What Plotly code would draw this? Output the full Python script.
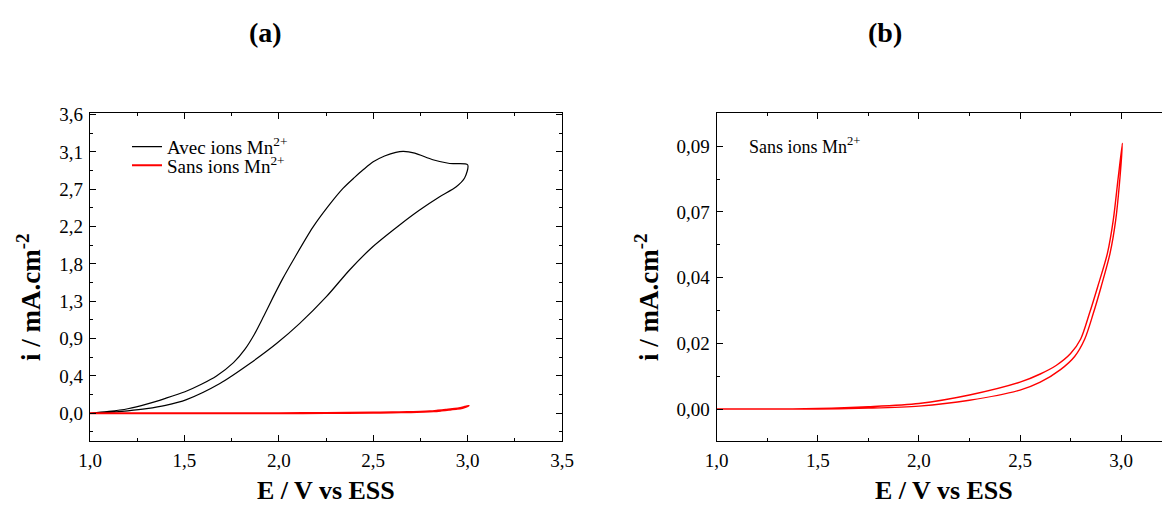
import plotly.graph_objects as go

# ---------------- data ----------------
# Panel (a) black loop: "Avec ions Mn2+" (E in V, i in mA/cm2)
E_avec = [1.000, 1.100, 1.200, 1.300, 1.400, 1.503, 1.590, 1.670, 1.760, 1.820,
          1.870, 1.920, 1.970, 2.020, 2.080, 2.180, 2.260, 2.340, 2.400, 2.450,
          2.500, 2.560, 2.620, 2.660, 2.720, 2.816, 2.905, 3.000,
          2.984, 2.940, 2.852, 2.746, 2.640, 2.499, 2.376, 2.252, 2.111, 1.988,
          1.847, 1.688, 1.511, 1.400, 1.300, 1.200, 1.100, 1.000]
I_avec = [0.000, 0.022, 0.055, 0.110, 0.180, 0.260, 0.350, 0.450, 0.610, 0.770,
          0.950, 1.170, 1.400, 1.620, 1.860, 2.240, 2.490, 2.710, 2.840, 2.940,
          3.030, 3.100, 3.145, 3.156, 3.135, 3.055, 3.010, 2.995,
          2.835, 2.730, 2.610, 2.450, 2.270, 2.010, 1.730, 1.405, 1.083, 0.840,
          0.600, 0.359, 0.165, 0.095, 0.056, 0.030, 0.012, 0.000]

# "Sans ions Mn2+" loop (used in both panels)
E_sans = [1.000, 1.250, 1.500, 1.750, 2.000, 2.250, 2.500, 2.600, 2.680, 2.750,
          2.800, 2.843, 2.884, 2.932, 2.961, 2.985, 3.006,
          2.995, 2.973, 2.945, 2.901, 2.862, 2.820, 2.770, 2.700, 2.600, 2.500,
          2.250, 2.000, 1.750, 1.500, 1.000]
I_sans = [0.0000, 0.0000, 0.0002, 0.0008, 0.0019, 0.0048, 0.0092, 0.0120, 0.0150, 0.0190,
          0.0240, 0.0327, 0.0419, 0.0533, 0.0647, 0.0790, 0.0911,
          0.0800, 0.0647, 0.0533, 0.0419, 0.0327, 0.0240, 0.0180, 0.0135, 0.0092, 0.0065,
          0.0030, 0.0010, 0.0003, 0.0000, 0.0000]

# ticks
x_ticks_a = [1.0, 1.5, 2.0, 2.5, 3.0, 3.5]
x_ticktext_a = ["1,0", "1,5", "2,0", "2,5", "3,0", "3,5"]
x_minor_a = [1.25, 1.75, 2.25, 2.75, 3.25]
y_ticks_a = [0.0, 0.45, 0.9, 1.35, 1.8, 2.25, 2.7, 3.15, 3.6]
y_ticktext_a = ["0,0", "0,4", "0,9", "1,3", "1,8", "2,2", "2,7", "3,1", "3,6"]
y_minor_a = [-0.225, 0.225, 0.675, 1.125, 1.575, 2.025, 2.475, 2.925, 3.375]

x_ticks_b = [1.0, 1.5, 2.0, 2.5, 3.0]
x_ticktext_b = ["1,0", "1,5", "2,0", "2,5", "3,0"]
x_minor_b = [1.25, 1.75, 2.25, 2.75]
y_ticks_b = [0.0, 0.0225, 0.045, 0.0675, 0.09]
y_ticktext_b = ["0,00", "0,02", "0,04", "0,07", "0,09"]
y_minor_b = [-0.01125, 0.01125, 0.03375, 0.05625, 0.07875]

name_avec = "Avec ions Mn<sup>2+</sup>"
name_sans = "Sans ions Mn<sup>2+</sup>"
x_title = "<b>E / V vs ESS</b>"
y_title = "<b>i / mA.cm<sup>-2</sup></b>"

# ---------------- figure ----------------
W, H = 1162, 506
FONT = "Liberation Serif"

def px(x):
    return x / W

def py(y):
    return 1 - y / H

fig = go.Figure()
fig.add_trace(go.Scatter(x=E_avec, y=I_avec, mode="lines", name=name_avec,
                         line=dict(color="black", width=1.2, shape="spline", smoothing=0.8),
                         xaxis="x", yaxis="y", legend="legend"))
fig.add_trace(go.Scatter(x=E_sans, y=I_sans, mode="lines", name=name_sans,
                         line=dict(color="#ff0000", width=2.0, shape="spline", smoothing=0.8),
                         xaxis="x", yaxis="y", legend="legend2"))
fig.add_trace(go.Scatter(x=E_sans, y=I_sans, mode="lines", name=name_sans,
                         line=dict(color="#ff0000", width=1.4, shape="spline", smoothing=0.8),
                         xaxis="x2", yaxis="y2", showlegend=False))

tickfont = dict(family=FONT, size=19, color="black")
common = dict(showline=True, linecolor="black", linewidth=1.3, ticks="inside",
              ticklen=6, tickwidth=1.3, tickcolor="black", showgrid=False,
              zeroline=False, tickfont=tickfont, tickmode="array", automargin=False)
minor = dict(ticks="inside", ticklen=3, tickwidth=1.3, tickcolor="black", showgrid=False)

ydom = [py(441), py(113.3)]

fig.update_layout(
    template="none",
    width=W, height=H, autosize=False,
    margin=dict(l=0, r=0, t=0, b=0, pad=0, autoexpand=False),
    paper_bgcolor="white", plot_bgcolor="white",
    font=dict(family=FONT, color="black"),
    xaxis=dict(domain=[px(90), px(562)], range=[1.0, 3.5], anchor="y",
               tickvals=x_ticks_a, ticktext=x_ticktext_a, ticklabelstandoff=2,
               minor=dict(tickvals=x_minor_a, **minor), mirror="ticks", **common),
    yaxis=dict(domain=ydom, range=[-0.334, 3.615], anchor="x",
               tickvals=y_ticks_a, ticktext=y_ticktext_a, ticklabelstandoff=2,
               minor=dict(tickvals=y_minor_a, **minor), mirror="ticks", **common),
    xaxis2=dict(domain=[px(716.7), 1.0], range=[1.0, 3.202], anchor="y2",
                tickvals=x_ticks_b, ticktext=x_ticktext_b, ticklabelstandoff=2,
                minor=dict(tickvals=x_minor_b, **minor), mirror="ticks", **common),
    yaxis2=dict(domain=ydom, range=[-0.01095, 0.1013], anchor="x2",
                tickvals=y_ticks_b, ticktext=y_ticktext_b, ticklabelstandoff=2,
                minor=dict(tickvals=y_minor_b, **minor), mirror=False, **common),
    legend=dict(x=px(127), y=py(146.7), xanchor="left", yanchor="middle",
                bgcolor="rgba(0,0,0,0)", borderwidth=0, tracegroupgap=0,
                font=dict(family=FONT, size=19, color="black")),
    legend2=dict(x=px(127), y=py(165.5), xanchor="left", yanchor="middle",
                 bgcolor="rgba(0,0,0,0)", borderwidth=0, tracegroupgap=0,
                 font=dict(family=FONT, size=19, color="black")),
    showlegend=True,
)

ann = []
ann.append(dict(text="<b>(a)</b>", x=px(265), y=py(33), xref="paper", yref="paper",
                showarrow=False, font=dict(family=FONT, size=28, color="black"),
                xanchor="center", yanchor="middle"))
ann.append(dict(text="<b>(b)</b>", x=px(885), y=py(33), xref="paper", yref="paper",
                showarrow=False, font=dict(family=FONT, size=28, color="black"),
                xanchor="center", yanchor="middle"))
for cx in (325.5, 944):
    ann.append(dict(text=x_title, x=px(cx), y=py(490), xref="paper", yref="paper",
                    showarrow=False, borderpad=0,
                    font=dict(family=FONT, size=26, color="black"),
                    xanchor="center", yanchor="middle"))
for cx in (29, 647):
    ann.append(dict(text=y_title, x=px(cx), y=py(298), xref="paper", yref="paper",
                    showarrow=False, textangle=-90,
                    font=dict(family=FONT, size=27, color="black"),
                    xanchor="center", yanchor="middle"))
ann.append(dict(text=name_sans, x=px(747), y=py(145), xref="paper", yref="paper",
                showarrow=False, font=dict(family=FONT, size=18, color="black"),
                xanchor="left", yanchor="middle"))
fig.update_layout(annotations=ann)

fig.write_html("out.html",
               config={"displayModeBar": False},
               post_script="document.body.style.margin='0';document.body.style.overflow='hidden';")
